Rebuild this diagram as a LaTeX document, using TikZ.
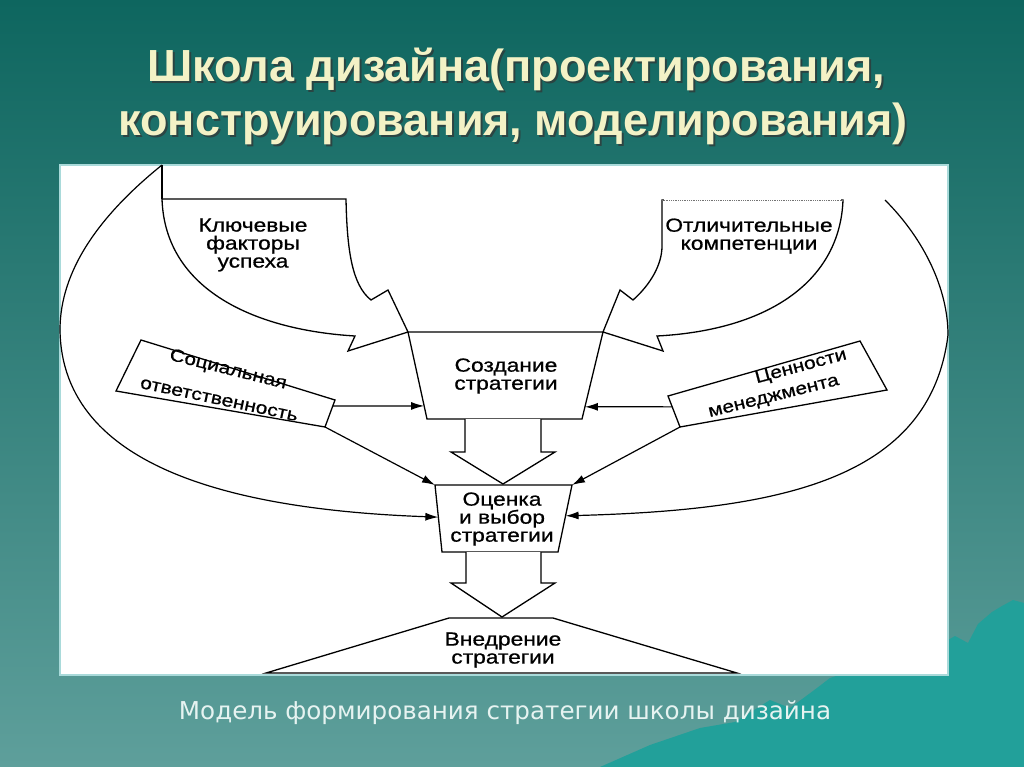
\documentclass[tikz,border=0pt]{standalone}
\usepackage{fontspec}
\setmainfont{Liberation Sans}
\newfontfamily\dfont[FakeStretch=1.2,FakeBold=0.7]{Liberation Sans}
\newfontfamily\capfont{DejaVu Sans}
\usetikzlibrary{arrows.meta,calc}
\definecolor{bgtop}{HTML}{0E665F}
\definecolor{bgmid}{HTML}{3A867F}
\definecolor{bgbot}{HTML}{5E9F9B}
\definecolor{mount}{HTML}{22A09A}
\definecolor{titlecol}{HTML}{F3F2C6}
\definecolor{capcol}{HTML}{E6F3F1}
\definecolor{panelborder}{HTML}{A9DADA}
\tikzset{
  txt/.style={font=\dfont\fontsize{19}{18}\selectfont, align=center, inner sep=0pt},
  rtxt/.style={font=\dfont\fontsize{17.5}{18}\selectfont, inner sep=0pt},
  shapeline/.style={draw=black, line width=1.3pt, line join=miter, fill=white},
  arr/.style={draw=black, line width=1.2pt, -{Latex[length=13pt,width=8pt]}},
  titletxt/.style={font=\fontsize{45}{45}\selectfont\bfseries, inner sep=0pt, anchor=base},
}
\begin{document}
\begin{tikzpicture}[x=1pt,y=-1pt]
\useasboundingbox (0,0) rectangle (1024,767);
% background
\shade[top color=bgtop, middle color=bgmid, bottom color=bgbot] (0,0) rectangle (1024,767);
\fill[mount] (600,767) -- (650,745) -- (700,728) -- (735,722) -- (770,700) -- (790,708) -- (817,688) -- (830,678) -- (948,640) -- (955,636) -- (968,643) -- (978,624) -- (992,612) -- (1002,606) -- (1013,600) -- (1024,603) -- (1024,767) -- cycle;
% title
\node[titletxt, text=black!80, opacity=0.7] at (518,84) {Школа дизайна(проектирования,};
\node[titletxt, text=titlecol] (title1) at (516,82) {Школа дизайна(проектирования,};
\node[titletxt, text=black!80, opacity=0.7] at (515,138) {конструирования, моделирования)};
\node[titletxt, text=titlecol] (title2) at (513,136) {конструирования, моделирования)};
% panel
\fill[white, draw=panelborder, line width=1.5pt] (60,165) rectangle (948,675);
% corners
\coordinate (c1) at (408,332); \coordinate (c2) at (603,332);
\coordinate (c3) at (582,419); \coordinate (c4) at (427,419);
\coordinate (e1) at (435,485); \coordinate (e2) at (572,485);
\coordinate (e3) at (558,552); \coordinate (e4) at (442,552);
\coordinate (v1) at (449,618); \coordinate (v2) at (553,618);
\coordinate (v3) at (737,673); \coordinate (v4) at (266,673);
\coordinate (s1) at (141,340); \coordinate (s2) at (335,400);
\coordinate (s3) at (325,427); \coordinate (s4) at (116,391);
\coordinate (m1) at (668,396); \coordinate (m2) at (860,341);
\coordinate (m3) at (887,390); \coordinate (m4) at (680,427);
% outer curves
\coordinate (lstart) at (162,165);
\coordinate (rstart) at (885,200);
\coordinate (eL) at ($(e1)!0.48!(e4)$);
\coordinate (eR) at ($(e2)!0.46!(e3)$);
\draw[arr] (lstart) .. controls (100,215) and (60,270) .. (60,330)
   .. controls (62,470) and (240,510) .. (eL);
\draw[arr] (rstart) .. controls (925,240) and (948,290) .. (948,335)
   .. controls (930,480) and (780,510) .. (eR);
% key factors curved arrow
\draw[shapeline] (lstart) -- (162,199);
\draw[shapeline] (162,199) -- (346,199) .. controls (347,250) and (352,285) .. (371,300)
   -- (388,290) -- (c1) -- (348,351) -- (355,336)
   .. controls (255,330) and (165,290) .. (162,199) -- cycle;
% distinctive competences curved arrow
\draw[shapeline] (662,246) -- (662,200) -- (843,200)
   .. controls (840,280) and (770,330) .. (657,336)
   -- (663,351) -- (c2) -- (620,290) -- (633,300)
   .. controls (650,285) and (662,265) .. (662,246) -- cycle;
\draw[white, line width=1.6pt] (664,200) -- (841,200);
\draw[black!55, line width=0.8pt, densely dotted] (662,200) -- (843,200);
% boxes
\draw[shapeline] (c1) -- (c2) -- (c3) -- (c4) -- cycle;
\draw[shapeline] (e1) -- (e2) -- (e3) -- (e4) -- cycle;
\draw[shapeline] (v1) -- (v2) -- (v3) -- (v4) -- cycle;
\draw[shapeline] (s1) -- (s2) -- (s3) -- (s4) -- cycle;
\draw[shapeline] (m1) -- (m2) -- (m3) -- (m4) -- cycle;
% block arrows
\draw[shapeline] (465,419) -- (465,452) -- (451,452) -- (503,484) -- (555,452) -- (541,452) -- (541,419);
\draw[shapeline] (466,552) -- (466,583) -- (451,583) -- (502,617) -- (555,583) -- (541,583) -- (541,552);
% texts
\node[txt] (keyf) at (253,245) {Ключевые\\факторы\\успеха};
\node[txt] (dist) at (749,236) {Отличительные\\компетенции};
\node[txt] (create) at (506,376) {Создание\\стратегии};
\node[txt] (eval) at (502,519) {Оценка\\и выбор\\стратегии};
\node[txt] (impl) at (503,650) {Внедрение\\стратегии};
\node[rtxt, rotate=-14] (soc1) at (228,370) {Социальная};
\node[rtxt, rotate=-12] (soc2) at (219,400) {ответственность};
\node[rtxt, rotate=15] (man1) at (801,367) {Ценности};
\node[rtxt, rotate=14] (man2) at (774,398) {менеджмента};
% straight arrows
\coordinate (sR) at ($(s2)!0.22!(s3)$);
\coordinate (cL) at ($(c1)!0.85!(c4)$);
\coordinate (mL) at ($(m1)!0.35!(m4)$);
\coordinate (cR) at ($(c2)!0.86!(c3)$);
\draw[arr] (sR) -- (cL);
\draw[arr] (s3) -- (e1);
\draw[arr] (mL) -- (cR);
\draw[arr] (m4) -- (e2);
% caption
\node[font=\capfont\fontsize{24.6}{24.6}\selectfont, text=capcol, inner sep=0pt, anchor=base] (caption) at (505,719) {Модель формирования стратегии школы дизайна};
\end{tikzpicture}
\end{document}
